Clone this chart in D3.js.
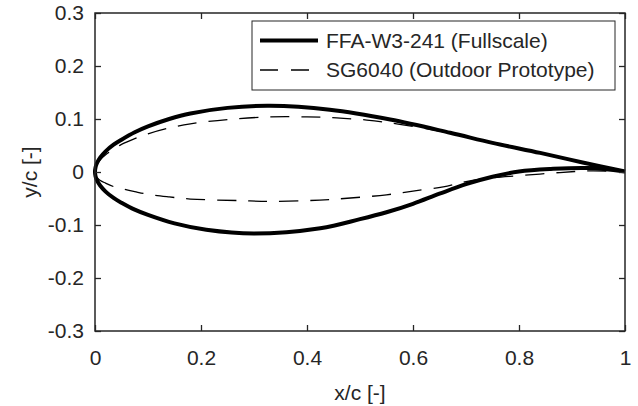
<!DOCTYPE html>
<html>
<head>
<meta charset="utf-8">
<script src="https://cdn.jsdelivr.net/npm/d3@7"></script>
<style>
body { margin: 0; background: #fff; }
text { font-family: 'Liberation Sans', Arial, Helvetica, sans-serif; fill: #262626; }
</style>
</head>
<body>
<div id="chart"></div>
<script>
// airfoil coordinates, [x/c, y/c], LE -> TE
let ffaUpper = [[0, 0], [0.001, 0.0087], [0.004, 0.0174], [0.01, 0.0275], [0.02, 0.039], [0.035, 0.0515],
    [0.05, 0.061], [0.075, 0.075], [0.1, 0.086], [0.14, 0.1], [0.18, 0.1105], [0.25, 0.121],
    [0.33, 0.125], [0.443, 0.1175], [0.557, 0.099], [0.67, 0.074], [0.75, 0.055], [0.84, 0.036],
    [0.92, 0.018], [1, 0.001]]
let ffaLower = [[0, 0], [0.001, -0.008], [0.004, -0.0163], [0.01, -0.026], [0.02, -0.037], [0.035, -0.049],
    [0.05, -0.058], [0.075, -0.071], [0.1, -0.081], [0.15, -0.097], [0.21, -0.109], [0.3, -0.116],
    [0.425, -0.106], [0.5, -0.089], [0.55, -0.076], [0.6, -0.06], [0.65, -0.041], [0.7, -0.023],
    [0.75, -0.009], [0.8, 0.001], [0.86, 0.0057], [0.93, 0.0075], [1, 0.001]]
let sgUpper = [[0, 0], [0.001, 0.0073], [0.004, 0.0146], [0.01, 0.023], [0.02, 0.0325], [0.035, 0.043],
    [0.05, 0.052], [0.075, 0.063], [0.1, 0.072], [0.14, 0.083], [0.18, 0.091], [0.25, 0.099],
    [0.33, 0.104], [0.4, 0.104], [0.456, 0.102], [0.513, 0.098], [0.575, 0.09], [0.67, 0.073],
    [0.75, 0.054], [0.84, 0.035], [0.92, 0.017], [1, 0.001]]
let sgLower = [[0, 0], [0.001, -0.0055], [0.004, -0.0105], [0.01, -0.016], [0.02, -0.021], [0.035, -0.0275],
    [0.05, -0.0315], [0.075, -0.037], [0.1, -0.042], [0.14, -0.047], [0.18, -0.051], [0.274, -0.054],
    [0.33, -0.0555], [0.4, -0.054], [0.456, -0.051], [0.55, -0.043], [0.6, -0.036], [0.657, -0.028],
    [0.7, -0.018], [0.75, -0.011], [0.8, -0.007], [0.877, -0.001], [0.93, 0.002], [1, 0.001]]

let seriesNames = ['FFA-W3-241 (Fullscale)', 'SG6040 (Outdoor Prototype)']
let xTicks = [0, 0.2, 0.4, 0.6, 0.8, 1]
let xTickLabels = ['0', '0.2', '0.4', '0.6', '0.8', '1']
let yTicks = [-0.3, -0.2, -0.1, 0, 0.1, 0.2, 0.3]
let yTickLabels = ['-0.3', '-0.2', '-0.1', '0', '0.1', '0.2', '0.3']

let width = 638, height = 406
let plotLeft = 95, plotRight = 625, plotTop = 13, plotBottom = 331
let fontSize = 21
let axisColor = '#262626'

let svg = d3.select('#chart')
    .append('svg')
    .attr('width', width)
    .attr('height', height)

let xScale = d3.scaleLinear().domain([0, 1]).range([plotLeft, plotRight])
let yScale = d3.scaleLinear().domain([-0.3, 0.3]).range([plotBottom, plotTop])

let line = d3.line()
    .x(d => xScale(d[0]))
    .y(d => yScale(d[1]))
    .curve(d3.curveCatmullRom.alpha(0.5))

// one loop per airfoil: TE -> upper -> LE -> lower -> TE
let loop = (up, low) => up.slice().reverse().concat(low.slice(1))

svg.append('path')
    .attr('d', line(loop(ffaUpper, ffaLower)))
    .attr('fill', 'none')
    .attr('stroke', '#000')
    .attr('stroke-width', 4)
    .attr('stroke-linejoin', 'round')

svg.append('path')
    .attr('d', line(loop(sgUpper, sgLower)))
    .attr('fill', 'none')
    .attr('stroke', '#000')
    .attr('stroke-width', 1.3)
    .attr('stroke-dasharray', '19,12')

// axes, ticks pointing inward on all four sides
function styleAxis(g) {
    g.select('.domain').remove()
    g.selectAll('line').attr('stroke', axisColor).attr('stroke-width', 1.3)
    g.selectAll('text')
        .attr('font-size', fontSize)
        .attr('font-family', "'Liberation Sans', Arial, sans-serif")
        .attr('fill', axisColor)
}

svg.append('g')
    .attr('transform', `translate(0,${plotBottom})`)
    .call(d3.axisBottom(xScale).tickValues(xTicks).tickFormat((d, i) => xTickLabels[i])
        .tickSizeInner(-6).tickSizeOuter(0).tickPadding(19))
    .call(styleAxis)

svg.append('g')
    .attr('transform', `translate(0,${plotTop})`)
    .call(d3.axisTop(xScale).tickValues(xTicks).tickFormat('')
        .tickSizeInner(-6).tickSizeOuter(0))
    .call(styleAxis)

svg.append('g')
    .attr('transform', `translate(${plotLeft},0)`)
    .call(d3.axisLeft(yScale).tickValues(yTicks).tickFormat((d, i) => yTickLabels[i])
        .tickSizeInner(-6).tickSizeOuter(0).tickPadding(11))
    .call(styleAxis)

svg.append('g')
    .attr('transform', `translate(${plotRight},0)`)
    .call(d3.axisRight(yScale).tickValues(yTicks).tickFormat('')
        .tickSizeInner(-6).tickSizeOuter(0))
    .call(styleAxis)

svg.append('rect')
    .attr('x', plotLeft)
    .attr('y', plotTop)
    .attr('width', plotRight - plotLeft)
    .attr('height', plotBottom - plotTop)
    .attr('fill', 'none')
    .attr('stroke', axisColor)
    .attr('stroke-width', 1.5)

// axis labels
svg.append('text')
    .attr('x', (plotLeft + plotRight) / 2)
    .attr('y', 400)
    .attr('text-anchor', 'middle')
    .attr('font-size', fontSize)
    .text('x/c [-]')

svg.append('text')
    .attr('transform', `translate(37,${(plotTop + plotBottom) / 2}) rotate(-90)`)
    .attr('text-anchor', 'middle')
    .attr('font-size', fontSize)
    .text('y/c [-]')

// legend
let legend = svg.append('g')
legend.append('rect')
    .attr('x', 252)
    .attr('y', 21)
    .attr('width', 363)
    .attr('height', 69)
    .attr('fill', '#fff')
    .attr('stroke', axisColor)
    .attr('stroke-width', 1)

let legendStyles = [{ w: 4, dash: null }, { w: 1.3, dash: '18,13' }]
let items = legend.selectAll('.item')
    .data(seriesNames)
    .enter()
    .append('g')
    .attr('class', 'item')
    .attr('transform', (d, i) => `translate(0,${40.5 + i * 29.5})`)

items.append('line')
    .attr('x1', 260)
    .attr('x2', 318)
    .attr('stroke', '#000')
    .attr('stroke-width', (d, i) => legendStyles[i].w)
    .attr('stroke-dasharray', (d, i) => legendStyles[i].dash)

items.append('text')
    .attr('x', 326)
    .attr('dy', '0.35em')
    .attr('font-size', fontSize)
    .text(d => d)
</script>
</body>
</html>
